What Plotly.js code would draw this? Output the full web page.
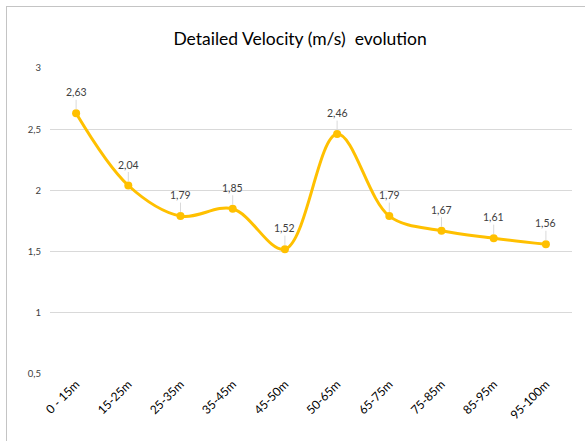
<!DOCTYPE html>
<html>
<head>
<meta charset="utf-8">
<script src="https://cdn.plot.ly/plotly-3.0.1.min.js"></script>
<style>
html,body{margin:0;padding:0;background:#fff;overflow:hidden;}
#wrap{position:relative;width:585px;height:441px;}
#chart{position:absolute;left:0;top:0;width:585px;height:441px;}
#frame{position:absolute;left:6px;top:6px;width:620px;height:480px;border:1px solid #c4c4c4;pointer-events:none;}
</style>
</head>
<body>
<div id="wrap"><div id="chart"></div><div id="frame"></div></div>
<script>
const categories = ["0 - 15m","15-25m","25-35m","35-45m","45-50m","50-65m","65-75m","75-85m","85-95m","95-100m"];
const velocity = [2.63, 2.04, 1.79, 1.85, 1.52, 2.46, 1.79, 1.67, 1.61, 1.56];
const yTicks = [0.5, 1, 1.5, 2, 2.5, 3];

const FONT = "Lato, 'Open Sans', sans-serif";
const annotations = categories.map((c, i) => ({
  x: c, y: velocity[i], xref: 'x', yref: 'y',
  text: velocity[i].toFixed(2).replace('.', ','),
  showarrow: true, arrowhead: 0, arrowwidth: 1, arrowcolor: '#d9d9d9',
  ax: 0, ay: -21, standoff: 4,
  font: {family: FONT, size: 10.5, color: '#404040'}
}));

const trace = {
  x: categories, y: velocity, type: 'scatter', mode: 'lines+markers',
  line: {color: '#FFC000', width: 3, shape: 'spline', smoothing: 1},
  marker: {color: '#FFC000', size: 8},
  hoverinfo: 'none'
};

const layout = {
  width: 585, height: 441,
  margin: {l: 50, r: 13, t: 68, b: 67},
  paper_bgcolor: '#ffffff', plot_bgcolor: '#ffffff',
  separators: ',.',
  showlegend: false,
  title: {text: 'Detailed Velocity (m/s)  evolution', x: 0.513, xanchor: 'center', y: 0.912, yanchor: 'middle',
          font: {family: FONT, size: 17.5, color: '#000000', weight: 400}},
  xaxis: {type: 'category', range: [-0.5, 9.5], showgrid: false, zeroline: false, showline: false,
          ticks: '', tickangle: -45, tickfont: {family: FONT, size: 12, color: '#000000'}, fixedrange: true},
  yaxis: {range: [0.5, 3], tickvals: yTicks, showgrid: true, gridcolor: '#d9d9d9', gridwidth: 1,
          zeroline: false, showline: false, ticks: '', ticklabelstandoff: 8,
          tickfont: {family: FONT, size: 9.5, color: '#404040'}, fixedrange: true},
  annotations: annotations
};

Plotly.newPlot('chart', [trace], layout, {displayModeBar: false, staticPlot: true});
</script>
</body>
</html>
